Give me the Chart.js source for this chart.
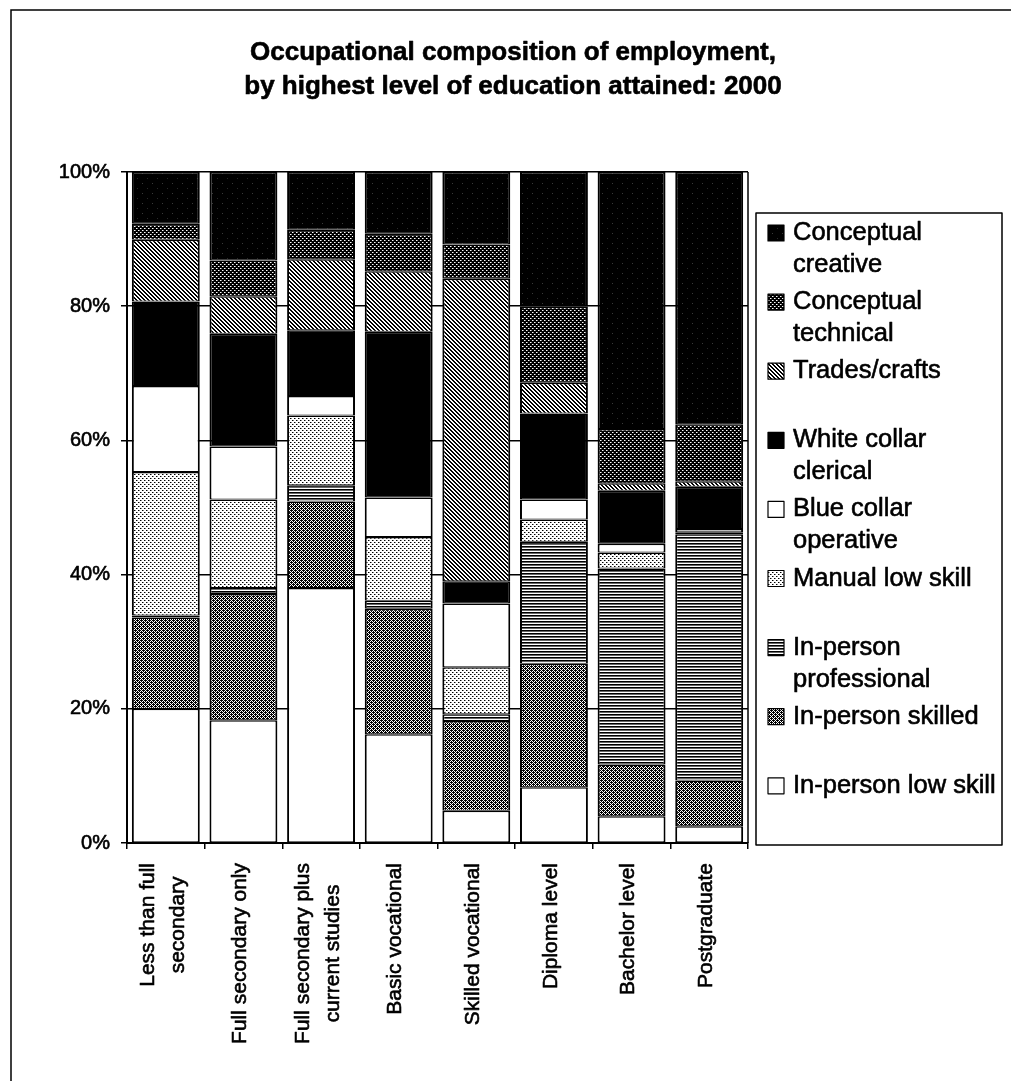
<!DOCTYPE html>
<html>
<head>
<meta charset="utf-8">
<title>Occupational composition of employment</title>
<script src="https://cdn.jsdelivr.net/npm/chart.js@4.4.1/dist/chart.umd.min.js"></script>
<style>
  html, body { margin: 0; padding: 0; background: #fff; }
  #wrap { width: 1011px; height: 1081px; }
</style>
</head>
<body>
<div id="wrap"><canvas id="occChart" width="1011" height="1081"></canvas></div>
<script>
const FONT = "'Liberation Sans', Arial, sans-serif";

const categories = [
  ["Less than full", "secondary"],
  ["Full secondary only"],
  ["Full secondary plus", "current studies"],
  ["Basic vocational"],
  ["Skilled vocational"],
  ["Diploma level"],
  ["Bachelor level"],
  ["Postgraduate"],
];

// share of employment (%) by occupation group, bottom of each stack first
const inPersonLowSkill = [20.0, 18.3, 38.0, 16.2, 4.8, 8.3, 4.0, 2.5];
const inPersonSkilled = [13.6, 18.8, 12.9, 18.7, 13.4, 18.4, 7.7, 6.8];
const inPersonProfessional = [0.3, 0.9, 2.4, 1.2, 1.0, 18.2, 29.2, 36.7];
const manualLowSkill = [21.4, 13.2, 10.4, 9.5, 7.0, 3.3, 2.4, 0.3];
const blueCollarOperative = [12.8, 7.9, 2.9, 5.9, 9.5, 3.0, 1.3, 0.5];
const whiteCollarClerical = [12.6, 16.8, 9.8, 24.7, 3.3, 12.8, 7.9, 6.3];
const tradesCrafts = [9.2, 5.6, 10.6, 9.0, 45.1, 4.6, 1.1, 0.8];
const conceptualTechnical = [2.4, 5.3, 4.4, 5.6, 5.1, 11.3, 8.1, 8.5];
const conceptualCreative = [7.7, 13.2, 8.6, 9.2, 10.8, 20.1, 38.3, 37.6];

const yTicks = [0, 20, 40, 60, 80, 100];

// small bitmap tiles used as hatch fills
function makePattern(w, h, paint) {
  const c = document.createElement("canvas");
  c.width = w;
  c.height = h;
  const g = c.getContext("2d");
  paint(g, w, h);
  return g.createPattern(c, "repeat");
}

function dot(g, x, y, color) {
  g.fillStyle = color;
  g.fillRect(x, y, 1, 1);
}

const fills = {
  creative: makePattern(10, 10, (g) => {
    g.fillStyle = "#000";
    g.fillRect(0, 0, 10, 10);
    dot(g, 2, 3, "#3a3a3a");
    dot(g, 7, 8, "#2a2a2a");
  }),
  technical: makePattern(4, 4, (g) => {
    g.fillStyle = "#000";
    g.fillRect(0, 0, 4, 4);
    dot(g, 0, 0, "#fff");
    dot(g, 2, 2, "#fff");
    dot(g, 1, 0, "#888");
    dot(g, 3, 2, "#888");
  }),
  trades: makePattern(4, 4, (g) => {
    g.fillStyle = "#fff";
    g.fillRect(0, 0, 4, 4);
    for (let y = 0; y < 4; y++) {
      for (let x = 0; x < 4; x++) {
        const d = (((x - y) % 4) + 4) % 4;
        if (d === 0 || d === 1) dot(g, x, y, "#000");
      }
    }
  }),
  clerical: "#000",
  blueCollar: "#fff",
  manual: makePattern(4, 4, (g) => {
    g.fillStyle = "#fff";
    g.fillRect(0, 0, 4, 4);
    dot(g, 0, 0, "#000");
    dot(g, 2, 2, "#000");
    dot(g, 1, 0, "#888");
    dot(g, 3, 2, "#888");
  }),
  professional: makePattern(1, 3, (g) => {
    dot(g, 0, 0, "#000");
    dot(g, 0, 1, "#666");
    dot(g, 0, 2, "#fff");
  }),
  skilled: makePattern(4, 4, (g) => {
    g.fillStyle = "#000";
    g.fillRect(0, 0, 4, 4);
    for (let y = 0; y < 4; y++) {
      for (let x = 0; x < 4; x++) {
        const s = (x + y) % 4;
        if (s === 3 || (s === 1 && x % 2 === 0)) dot(g, x, y, "#fff");
      }
    }
  }),
  lowSkill: "#fff",
};

const series = [
  { name: ["In-person low skill"], data: inPersonLowSkill, fill: fills.lowSkill },
  { name: ["In-person skilled"], data: inPersonSkilled, fill: fills.skilled },
  { name: ["In-person", "professional"], data: inPersonProfessional, fill: fills.professional },
  { name: ["Manual low skill"], data: manualLowSkill, fill: fills.manual },
  { name: ["Blue collar", "operative"], data: blueCollarOperative, fill: fills.blueCollar },
  { name: ["White collar", "clerical"], data: whiteCollarClerical, fill: fills.clerical },
  { name: ["Trades/crafts"], data: tradesCrafts, fill: fills.trades },
  { name: ["Conceptual", "technical"], data: conceptualTechnical, fill: fills.technical },
  { name: ["Conceptual", "creative"], data: conceptualCreative, fill: fills.creative },
];

// text with a hairline outline so it reads a little heavier
function heavyText(ctx, text, x, y) {
  ctx.fillText(text, x, y);
  ctx.strokeText(text, x, y);
}

// frame, title, axis labels and the legend box
const decorations = {
  id: "decorations",
  beforeDraw(chart) {
    const ctx = chart.ctx;
    ctx.save();
    ctx.fillStyle = "#fff";
    ctx.fillRect(0, 0, chart.width, chart.height);
    ctx.strokeStyle = "#000";
    ctx.lineWidth = 1.5;
    ctx.beginPath();
    ctx.moveTo(11, chart.height);
    ctx.lineTo(11, 10);
    ctx.lineTo(chart.width, 10);
    ctx.stroke();
    ctx.restore();
  },
  beforeDatasetsDraw(chart) {
    const { ctx, chartArea } = chart;
    ctx.save();
    ctx.strokeStyle = "#000";
    ctx.lineWidth = 1.5;
    ctx.beginPath();
    ctx.moveTo(chartArea.right, chartArea.top);
    ctx.lineTo(chartArea.right, chartArea.bottom);
    ctx.stroke();
    ctx.restore();
  },
  afterDraw(chart) {
    const { ctx, chartArea } = chart;
    ctx.save();
    ctx.fillStyle = "#000";
    ctx.strokeStyle = "#000";
    ctx.lineWidth = 0.6;
    ctx.lineJoin = "round";

    // title
    ctx.font = "bold 26px " + FONT;
    ctx.textAlign = "center";
    ctx.textBaseline = "alphabetic";
    heavyText(ctx, "Occupational composition of employment,", 513, 60);
    heavyText(ctx, "by highest level of education attained: 2000", 513, 94);

    // percentage labels on the value axis
    const yScale = chart.scales.y;
    ctx.font = "20px " + FONT;
    ctx.textAlign = "right";
    ctx.textBaseline = "middle";
    yTicks.forEach((v) => {
      heavyText(ctx, v + "%", chartArea.left - 17, yScale.getPixelForValue(v));
    });

    // category names, read bottom to top, lines centred on each other
    const xScale = chart.scales.x;
    ctx.font = "21px " + FONT;
    categories.forEach((lines, i) => {
      const x = xScale.getPixelForValue(i);
      const w = Math.max(...lines.map((l) => ctx.measureText(l).width));
      ctx.save();
      ctx.translate(x, chartArea.bottom + 20 + w / 2);
      ctx.rotate(-Math.PI / 2);
      ctx.textAlign = "center";
      ctx.textBaseline = "middle";
      lines.forEach((l, j) => {
        heavyText(ctx, l, 0, (j - (lines.length - 1) / 2) * 30 - 3);
      });
      ctx.restore();
    });

    // legend, top entry is the top of the stack
    ctx.lineWidth = 1.5;
    ctx.strokeRect(756, 213, 246, 632);
    ctx.font = "25.5px " + FONT;
    ctx.textAlign = "left";
    ctx.textBaseline = "alphabetic";
    const items = series.slice().reverse();
    items.forEach((s, i) => {
      const base = 240 + i * 69.1;
      ctx.fillStyle = s.fill;
      ctx.fillRect(768, base - 15, 16, 16);
      ctx.lineWidth = 1.2;
      ctx.strokeRect(768, base - 15, 16, 16);
      ctx.fillStyle = "#000";
      ctx.lineWidth = 0.6;
      s.name.forEach((line, j) => heavyText(ctx, line, 793, base + j * 32));
    });
    ctx.restore();
  },
};

const ctx = document.getElementById("occChart").getContext("2d");
const occChart = new Chart(ctx, {
  type: "bar",
  data: {
    labels: categories.map((c) => c.join(" ")),
    datasets: series.map((s) => ({
      label: s.name.join(" "),
      data: s.data,
      backgroundColor: s.fill,
      borderColor: "#000",
      borderWidth: { top: 1.5, bottom: 1, left: 2, right: 2 },
      borderSkipped: false,
      barPercentage: 0.875,
      categoryPercentage: 1,
    })),
  },
  options: {
    responsive: false,
    animation: false,
    devicePixelRatio: 1,
    layout: { padding: { top: 172, right: 263, bottom: 208, left: 0 } },
    plugins: {
      legend: { display: false },
      title: { display: false },
      tooltip: { enabled: false },
    },
    scales: {
      x: {
        stacked: true,
        ticks: { display: false },
        grid: {
          drawOnChartArea: false,
          drawTicks: true,
          tickLength: 6,
          color: "#000",
          lineWidth: 1.5,
        },
        border: { display: true, color: "#000", width: 2 },
        afterFit: (s) => {
          s.height = 30;
        },
      },
      y: {
        stacked: true,
        min: 0,
        max: 100,
        afterBuildTicks: (s) => {
          s.ticks = yTicks.map((v) => ({ value: v }));
        },
        ticks: { display: false },
        grid: {
          color: "#000",
          lineWidth: 1.5,
          tickLength: 6,
        },
        border: { display: true, color: "#000", width: 2 },
        afterFit: (s) => {
          s.width = 127;
        },
      },
    },
  },
  plugins: [decorations],
});
</script>
</body>
</html>
